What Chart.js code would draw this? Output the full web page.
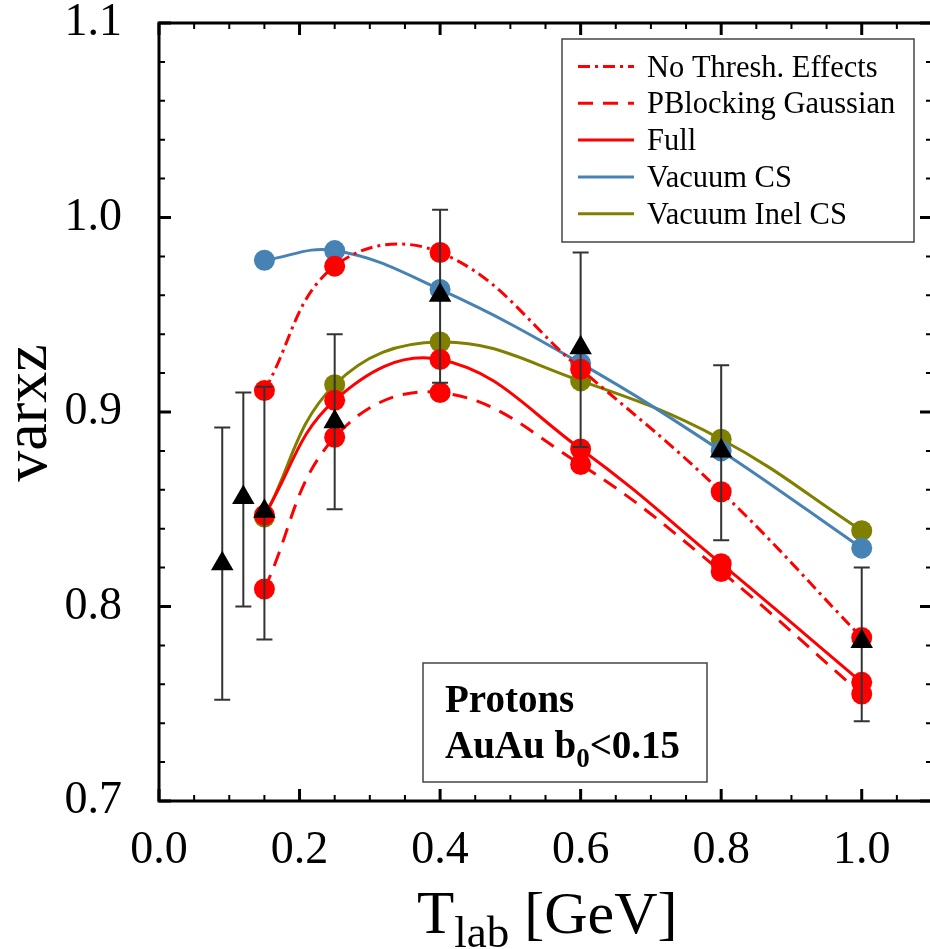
<!DOCTYPE html>
<html>
<head>
<meta charset="utf-8">
<title>varxz vs Tlab</title>
<script src="https://cdn.jsdelivr.net/npm/chart.js@4.4.1/dist/chart.umd.min.js"></script>
<style>
  html, body { margin: 0; padding: 0; background: #fff; overflow: hidden; }
  #chart { display: block; }
</style>
</head>
<body>
<canvas id="chart" width="945" height="949"></canvas>
<script>
const SERIF = "'Liberation Serif', 'Times New Roman', serif";

// model curves, all evaluated at the same beam energies
const tlab       = [0.15, 0.25, 0.4, 0.6, 0.8, 1.0];
const noThresh   = [0.911, 0.975, 0.982, 0.922, 0.859, 0.784];
const pblocking  = [0.809, 0.887, 0.910, 0.873, 0.818, 0.755];
const full       = [0.847, 0.906, 0.927, 0.881, 0.822, 0.761];
const vacuumCS   = [0.978, 0.983, 0.963, 0.925, 0.880, 0.830];
const vacuumInel = [0.846, 0.914, 0.936, 0.916, 0.886, 0.839];

// measured points with error bars
const expX    = [0.09, 0.12, 0.15, 0.25, 0.4, 0.6, 0.8, 1.0];
const expY    = [0.822, 0.856, 0.849, 0.895, 0.960, 0.933, 0.880, 0.782];
const expLow  = [0.752, 0.800, 0.783, 0.850, 0.915, 0.882, 0.834, 0.741];
const expHigh = [0.892, 0.910, 0.913, 0.940, 1.004, 0.982, 0.924, 0.820];

const xTicks = [0, 0.2, 0.4, 0.6, 0.8, 1.0];
const yTicks = [0.7, 0.8, 0.9, 1.0, 1.1];

const toPoints = (xs, ys) => xs.map((x, i) => ({ x: x, y: ys[i] }));

function curve(label, values, color, dash) {
  return {
    label: label,
    data: toPoints(tlab, values),
    borderColor: color,
    backgroundColor: color,
    borderWidth: 3,
    borderDash: dash,
    pointRadius: 10.5,
    pointBorderWidth: 0,
    pointBackgroundColor: color,
    tension: 0.4,
    showLine: true
  };
}

// error bars go down right before the triangles so the triangles sit on top
const errorBars = {
  id: "errorBars",
  beforeDatasetDraw(chart, args) {
    if (args.index !== 0) return;
    const { ctx, scales: { x, y } } = chart;
    ctx.save();
    ctx.strokeStyle = "#333";
    ctx.lineWidth = 2;
    expX.forEach((v, i) => {
      const px = x.getPixelForValue(v);
      const top = y.getPixelForValue(expHigh[i]);
      const bot = y.getPixelForValue(expLow[i]);
      ctx.beginPath();
      ctx.moveTo(px, top); ctx.lineTo(px, bot);
      ctx.moveTo(px - 8, top); ctx.lineTo(px + 8, top);
      ctx.moveTo(px - 8, bot); ctx.lineTo(px + 8, bot);
      ctx.stroke();
    });
    ctx.restore();
  }
};

// box frame with inward ticks on all four sides
const frame = {
  id: "frame",
  afterDatasetsDraw(chart) {
    const { ctx, chartArea: a, scales: { x, y } } = chart;
    ctx.save();
    ctx.strokeStyle = "#000";
    for (let i = 0; i <= 22; i++) {
      const px = x.getPixelForValue(i * 0.05);
      const major = i % 4 === 0;
      const len = major ? 12 : 6;
      ctx.lineWidth = major ? 3 : 2;
      ctx.beginPath();
      ctx.moveTo(px, a.bottom); ctx.lineTo(px, a.bottom - len);
      ctx.moveTo(px, a.top); ctx.lineTo(px, a.top + len);
      ctx.stroke();
    }
    for (let i = 0; i <= 20; i++) {
      const py = y.getPixelForValue(0.7 + i * 0.02);
      const major = i % 5 === 0;
      const len = major ? 12 : 6;
      ctx.lineWidth = major ? 3 : 2;
      ctx.beginPath();
      ctx.moveTo(a.left, py); ctx.lineTo(a.left + len, py);
      ctx.moveTo(a.right, py); ctx.lineTo(a.right - len, py);
      ctx.stroke();
    }
    ctx.lineWidth = 3;
    ctx.strokeRect(a.left, a.top, a.right - a.left, a.bottom - a.top);
    ctx.restore();
  }
};

// axis titles, legend and the label box
const decorations = {
  id: "decorations",
  afterDraw(chart) {
    const { ctx } = chart;
    ctx.save();
    ctx.fillStyle = "#000";

    // y title
    ctx.save();
    ctx.translate(46, 413);
    ctx.rotate(-Math.PI / 2);
    ctx.font = "62px " + SERIF;
    ctx.textAlign = "center";
    ctx.textBaseline = "alphabetic";
    ctx.fillText("varxz", 0, 0);
    ctx.restore();

    // x title: T with subscript lab
    ctx.textAlign = "left";
    ctx.textBaseline = "alphabetic";
    let cx = 417;
    ctx.font = "61px " + SERIF;
    ctx.fillText("T", cx, 933);
    cx += ctx.measureText("T").width;
    ctx.font = "45px " + SERIF;
    ctx.fillText("lab", cx, 947);
    cx += ctx.measureText("lab").width;
    ctx.font = "60px " + SERIF;
    ctx.fillText(" [GeV]", cx, 933);

    // legend
    const lx = 562, ly = 39, lw = 352, lh = 203;
    ctx.fillStyle = "#fff";
    ctx.fillRect(lx, ly, lw, lh);
    ctx.strokeStyle = "#444";
    ctx.lineWidth = 1.5;
    ctx.strokeRect(lx, ly, lw, lh);
    const entries = chart.data.datasets.filter(d => d.inLegend !== false);
    ctx.font = "30.5px " + SERIF;
    entries.forEach((d, i) => {
      const rowY = 66.5 + i * 36.8;
      ctx.save();
      ctx.strokeStyle = d.borderColor;
      ctx.lineWidth = 3;
      ctx.setLineDash(d.borderDash || []);
      ctx.beginPath();
      ctx.moveTo(578, rowY);
      ctx.lineTo(634, rowY);
      ctx.stroke();
      ctx.restore();
      ctx.fillStyle = "#000";
      ctx.fillText(d.label, 647, rowY + 10);
    });

    // label box
    ctx.fillStyle = "#fff";
    ctx.fillRect(423, 663, 284, 119);
    ctx.strokeStyle = "#444";
    ctx.lineWidth = 1.5;
    ctx.strokeRect(423, 663, 284, 119);
    ctx.fillStyle = "#000";
    ctx.font = "bold 39px " + SERIF;
    ctx.fillText("Protons", 445, 712);
    let bx = 445;
    ctx.fillText("AuAu b", bx, 758);
    bx += ctx.measureText("AuAu b").width;
    ctx.font = "bold 27px " + SERIF;
    ctx.fillText("0", bx, 767);
    bx += ctx.measureText("0").width;
    ctx.font = "bold 39px " + SERIF;
    ctx.fillText("<0.15", bx, 758);

    ctx.restore();
  }
};

const ctx = document.getElementById("chart").getContext("2d");

const chart = new Chart(ctx, {
  type: "line",
  data: {
    datasets: [
      {
        label: "Data",
        inLegend: false,
        data: toPoints(expX, expY),
        showLine: false,
        pointStyle: "triangle",
        pointRadius: 13,
        pointBorderWidth: 0,
        pointBackgroundColor: "#000",
        borderColor: "#000",
        backgroundColor: "#000"
      },
      curve("No Thresh. Effects", noThresh, "#ff0000", [12, 5, 3, 5]),
      curve("PBlocking Gaussian", pblocking, "#ff0000", [15, 10]),
      curve("Full", full, "#ff0000", []),
      curve("Vacuum CS", vacuumCS, "#4682b4", []),
      curve("Vacuum Inel CS", vacuumInel, "#808000", [])
    ]
  },
  options: {
    responsive: false,
    animation: false,
    devicePixelRatio: 1,
    layout: { padding: { top: 23, right: 10.5, left: 0, bottom: 0 } },
    plugins: {
      legend: { display: false },
      tooltip: { enabled: false }
    },
    scales: {
      x: {
        type: "linear",
        min: 0,
        max: 1.1,
        grid: { display: false },
        border: { display: false },
        afterBuildTicks: scale => { scale.ticks = xTicks.map(v => ({ value: v })); },
        afterFit: scale => {
          scale.height = 148;
          scale.paddingLeft = 0;
          scale.paddingRight = 0;
        },
        ticks: {
          color: "#000",
          padding: 14,
          maxRotation: 0,
          font: { family: SERIF, size: 46 },
          callback: v => v.toFixed(1)
        }
      },
      y: {
        type: "linear",
        min: 0.7,
        max: 1.1,
        grid: { display: false },
        border: { display: false },
        afterBuildTicks: scale => { scale.ticks = yTicks.map(v => ({ value: v })); },
        afterFit: scale => {
          scale.width = 159;
          scale.paddingTop = 0;
          scale.paddingBottom = 0;
        },
        ticks: {
          color: "#000",
          padding: 29,
          font: { family: SERIF, size: 46 },
          callback: v => v.toFixed(1)
        }
      }
    }
  },
  plugins: [errorBars, frame, decorations]
});
</script>
</body>
</html>
